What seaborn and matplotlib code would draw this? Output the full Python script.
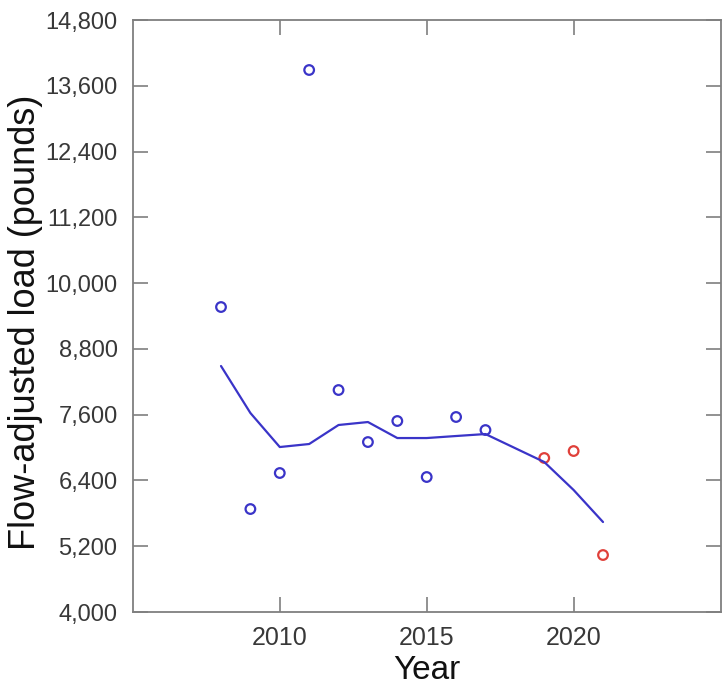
import matplotlib
matplotlib.use("Agg")
import matplotlib.pyplot as plt
import matplotlib.ticker as mticker
import seaborn as sns
import pandas as pd

# Observed annual flow-adjusted loads
years_blue = [2008, 2009, 2010, 2011, 2012, 2013, 2014, 2015, 2016, 2017]
loads_blue = [9564, 5879, 6536, 13888, 8050, 7101, 7485, 6463, 7558, 7320]
years_red = [2019, 2020, 2021]
loads_red = [6810, 6937, 5040]

# Trend line
trend_years = [2008, 2009, 2010, 2011, 2012, 2013, 2014, 2015, 2016, 2017, 2018, 2019, 2020, 2021]
trend_loads = [8488, 7631, 7010, 7065, 7412, 7466, 7174, 7174, 7211, 7247, 6992, 6737, 6226, 5642]

y_ticks = [4000, 5200, 6400, 7600, 8800, 10000, 11200, 12400, 13600, 14800]
x_ticks = [2010, 2015, 2020]

sns.set_theme(style="white")
plt.rcParams['font.family'] = ['Liberation Sans', 'DejaVu Sans']

fig = plt.figure(figsize=(7.22, 6.90), dpi=100)
ax = fig.add_axes([0.184, 0.113, 0.814, 0.858])

blue = "#3a34c8"
red = "#e0403a"

trend_df = pd.DataFrame({"Year": trend_years, "Load": trend_loads})
sns.lineplot(data=trend_df, x="Year", y="Load", ax=ax, color=blue, linewidth=1.6)

sns.scatterplot(x=years_blue, y=loads_blue, ax=ax, marker="o", s=48,
                facecolor="none", edgecolor=blue, linewidth=1.6)
sns.scatterplot(x=years_red, y=loads_red, ax=ax, marker="o", s=48,
                facecolor="none", edgecolor=red, linewidth=1.6)

ax.set_xlim(2005, 2025)
ax.set_ylim(4000, 14800)
ax.set_xticks(x_ticks)
ax.set_yticks(y_ticks)
ax.yaxis.set_major_formatter(mticker.FuncFormatter(lambda v, p: f"{int(v):,}"))

for s in ax.spines.values():
    s.set_color("#7f7f7f")
    s.set_linewidth(1.3)

ax.tick_params(axis="both", which="major", direction="in", length=11, width=1.2,
               color="#7f7f7f", labelcolor="#383838",
               top=True, right=True, bottom=True, left=True)
ax.tick_params(axis="y", labelsize=17, pad=11)
ax.tick_params(axis="x", labelsize=18, pad=10)

ax.set_xlabel("Year", fontsize=24, color="#111111", labelpad=0)
ax.set_ylabel("Flow-adjusted load (pounds)", fontsize=26, color="#111111")
ax.yaxis.set_label_coords(-0.153, 0.49)
ax.xaxis.set_label_coords(0.5, -0.072)

fig.savefig("out.png", dpi=100)
